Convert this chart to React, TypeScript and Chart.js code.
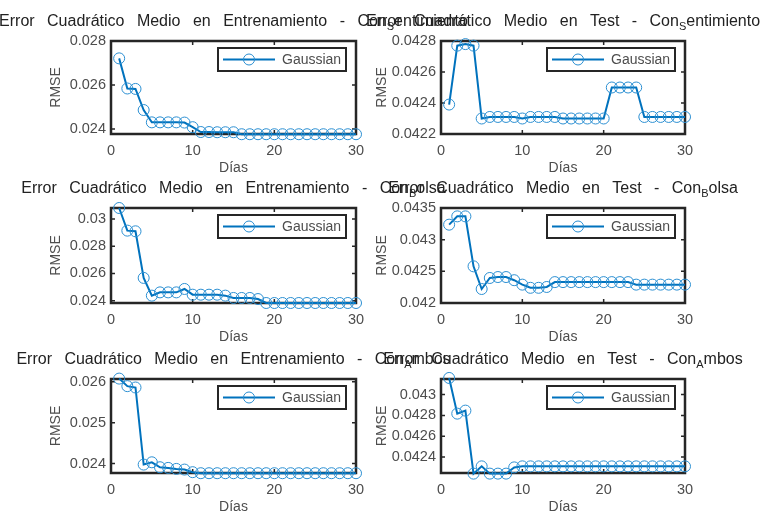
import React, { useEffect, useRef } from 'react';
import { Chart, registerables } from 'chart.js';

Chart.register(...registerables);

// ---------- data ----------
const days = [1, 2, 3, 4, 5, 6, 7, 8, 9, 10, 11, 12, 13, 14, 15, 16, 17, 18, 19, 20, 21, 22, 23, 24, 25, 26, 27, 28, 29, 30];
const xTicks = [0, 10, 20, 30];
const seriesName = 'Gaussian';

const trainSentimiento = [0.02721, 0.02584, 0.02582, 0.02486, 0.0243, 0.0243, 0.0243, 0.0243, 0.02429, 0.02408, 0.02386, 0.02386, 0.02385, 0.02385, 0.02385, 0.02376, 0.02376, 0.02376, 0.02376, 0.02376, 0.02376, 0.02376, 0.02376, 0.02376, 0.02376, 0.02376, 0.02376, 0.02376, 0.02376, 0.02376];
const testSentimiento = [0.04239, 0.04277, 0.04278, 0.04277, 0.0423, 0.04231, 0.04231, 0.04231, 0.04231, 0.0423, 0.04231, 0.04231, 0.04231, 0.04231, 0.0423, 0.0423, 0.0423, 0.0423, 0.0423, 0.0423, 0.0425, 0.0425, 0.0425, 0.0425, 0.04231, 0.04231, 0.04231, 0.04231, 0.04231, 0.04231];
const trainBolsa = [0.0308, 0.02914, 0.02909, 0.02567, 0.02437, 0.02461, 0.02461, 0.02461, 0.02486, 0.02444, 0.02444, 0.02444, 0.02444, 0.02437, 0.0242, 0.0242, 0.0242, 0.02412, 0.02383, 0.02383, 0.02383, 0.02383, 0.02383, 0.02383, 0.02383, 0.02383, 0.02383, 0.02383, 0.02383, 0.02383];
const testBolsa = [0.043237, 0.043368, 0.043368, 0.042579, 0.042221, 0.042395, 0.04241, 0.04241, 0.04236, 0.04229, 0.04224, 0.04224, 0.042253, 0.04233, 0.04233, 0.04233, 0.04233, 0.04233, 0.04233, 0.04233, 0.04233, 0.04233, 0.04233, 0.04229, 0.04229, 0.04229, 0.04229, 0.04229, 0.04229, 0.04229];
const trainAmbos = [0.02608, 0.025895, 0.025862, 0.023976, 0.024032, 0.023911, 0.023895, 0.02387, 0.023854, 0.02379, 0.023765, 0.023765, 0.023765, 0.023765, 0.023765, 0.023765, 0.023765, 0.023765, 0.023765, 0.023765, 0.023765, 0.023765, 0.023765, 0.023765, 0.023765, 0.023765, 0.023765, 0.023765, 0.023765, 0.023765];
const testAmbos = [0.04316, 0.042817, 0.042846, 0.04224, 0.04231, 0.04224, 0.04224, 0.04224, 0.0423, 0.04231, 0.04231, 0.04231, 0.04231, 0.04231, 0.04231, 0.04231, 0.04231, 0.04231, 0.04231, 0.04231, 0.04231, 0.04231, 0.04231, 0.04231, 0.04231, 0.04231, 0.04231, 0.04231, 0.04231, 0.04231];

const yTicksTrainSentimiento = [0.024, 0.026, 0.028];
const yTicksTestSentimiento = [0.0422, 0.0424, 0.0426, 0.0428];
const yTicksTrainBolsa = [0.024, 0.026, 0.028, 0.03];
const yTicksTestBolsa = [0.042, 0.0425, 0.043, 0.0435];
const yTicksTrainAmbos = [0.024, 0.025, 0.026];
const yTicksTestAmbos = [0.0424, 0.0426, 0.0428, 0.043];

const titleTrain = 'Error Cuadrático Medio en Entrenamiento - Con';
const titleTest = 'Error Cuadrático Medio en Test - Con';
const variants = [
  { sub: 'S', rest: 'entimiento' },
  { sub: 'B', rest: 'olsa' },
  { sub: 'A', rest: 'mbos' },
];

// ---------- layout / style ----------
const W = 763;
const H = 516;
const COLS = [
  { left: 111, right: 356, axisW: 63.4 },
  { left: 441, right: 685, axisW: 67.4 },
];
const ROWS = [
  { top: 41, bottom: 134 },
  { top: 208, bottom: 303 },
  { top: 379, bottom: 473 },
];
const X_AXIS_H = 42.4;
const FONT = '"Liberation Sans", Arial, Helvetica, sans-serif';
const BLUE = '#0072BD';
const MARKER = '#2b8fd2';
const AXIS = '#262626';
const LABEL = '#4d4d4d';

type Panel = {
  row: number;
  col: number;
  main: string;
  sub: string;
  rest: string;
  values: number[];
  yTicks: number[];
  yMin: number;
  yMax: number;
};

const panels: Panel[] = [
  { row: 0, col: 0, main: titleTrain, ...variants[0], values: trainSentimiento, yTicks: yTicksTrainSentimiento, yMin: 0.02377, yMax: 0.028 },
  { row: 0, col: 1, main: titleTest, ...variants[0], values: testSentimiento, yTicks: yTicksTestSentimiento, yMin: 0.0422, yMax: 0.0428 },
  { row: 1, col: 0, main: titleTrain, ...variants[1], values: trainBolsa, yTicks: yTicksTrainBolsa, yMin: 0.02383, yMax: 0.0308 },
  { row: 1, col: 1, main: titleTest, ...variants[1], values: testBolsa, yTicks: yTicksTestBolsa, yMin: 0.042, yMax: 0.0435 },
  { row: 2, col: 0, main: titleTrain, ...variants[2], values: trainAmbos, yTicks: yTicksTrainAmbos, yMin: 0.02377, yMax: 0.02607 },
  { row: 2, col: 1, main: titleTest, ...variants[2], values: testAmbos, yTicks: yTicksTestAmbos, yMin: 0.042246, yMax: 0.04315 },
];

function makePlugin(p: Panel) {
  return {
    id: 'matlabLook',
    beforeDatasetsDraw(chart: any) {
      const { ctx, chartArea: a, scales } = chart;
      ctx.save();
      ctx.strokeStyle = AXIS;
      ctx.lineWidth = 1.5;
      scales.x.ticks.forEach((t: any) => {
        const px = scales.x.getPixelForValue(t.value);
        ctx.beginPath();
        ctx.moveTo(px, a.top);
        ctx.lineTo(px, a.top + 4);
        ctx.moveTo(px, a.bottom);
        ctx.lineTo(px, a.bottom - 4);
        ctx.stroke();
      });
      scales.y.ticks.forEach((t: any) => {
        const py = scales.y.getPixelForValue(t.value);
        ctx.beginPath();
        ctx.moveTo(a.left, py);
        ctx.lineTo(a.left + 4, py);
        ctx.moveTo(a.right, py);
        ctx.lineTo(a.right - 4, py);
        ctx.stroke();
      });
      ctx.lineWidth = 2.5;
      ctx.strokeRect(a.left, a.top, a.right - a.left, a.bottom - a.top);
      ctx.restore();
    },
    afterDraw(chart: any) {
      const { ctx, chartArea: a } = chart;
      ctx.save();
      // legend
      const lw = 128;
      const lh = 23;
      const lx = a.right - 10 - lw;
      const ly = a.top + 7;
      ctx.fillStyle = '#ffffff';
      ctx.fillRect(lx, ly, lw, lh);
      ctx.strokeStyle = AXIS;
      ctx.lineWidth = 2;
      ctx.strokeRect(lx, ly, lw, lh);
      ctx.strokeStyle = BLUE;
      ctx.lineWidth = 2;
      ctx.beginPath();
      ctx.moveTo(lx + 5, ly + lh / 2);
      ctx.lineTo(lx + 57, ly + lh / 2);
      ctx.stroke();
      ctx.strokeStyle = MARKER;
      ctx.lineWidth = 1;
      ctx.beginPath();
      ctx.arc(lx + 31, ly + lh / 2, 5.5, 0, Math.PI * 2);
      ctx.stroke();
      ctx.fillStyle = LABEL;
      ctx.font = `14px ${FONT}`;
      ctx.textBaseline = 'middle';
      ctx.textAlign = 'left';
      ctx.fillText(seriesName, lx + 64, ly + lh / 2 + 0.5);

      // title with TeX-like subscript
      const c: any = ctx;
      c.letterSpacing = '0px';
      c.wordSpacing = '8px';
      const mainFont = `16px ${FONT}`;
      const subFont = `11px ${FONT}`;
      ctx.font = mainFont;
      const w1 = ctx.measureText(p.main).width;
      const w3 = ctx.measureText(p.rest).width;
      ctx.font = subFont;
      const w2 = ctx.measureText(p.sub).width;
      const total = w1 + w2 + w3;
      const cx = (a.left + a.right) / 2;
      const ty = a.top - 19;
      let x = cx - total / 2;
      ctx.fillStyle = '#222222';
      ctx.font = mainFont;
      ctx.fillText(p.main, x, ty);
      x += w1;
      ctx.font = subFont;
      ctx.fillText(p.sub, x, ty + 5);
      x += w2;
      ctx.font = mainFont;
      ctx.fillText(p.rest, x, ty);
      ctx.restore();
    },
  };
}

function PanelChart({ p }: { p: Panel }) {
  const ref = useRef<HTMLCanvasElement>(null);
  useEffect(() => {
    if (!ref.current) return;
    const col = COLS[p.col];
    const row = ROWS[p.row];
    const tickFont = { family: FONT, size: 14.5 };
    const labelFont = { family: FONT, size: 14 };
    const chart = new Chart(ref.current, {
      type: 'line',
      data: {
        datasets: [
          {
            label: seriesName,
            data: days.map((d, i) => ({ x: d, y: p.values[i] })),
            borderColor: BLUE,
            borderWidth: 2,
            pointStyle: 'circle',
            pointRadius: 5.5,
            pointBorderColor: MARKER,
            pointBackgroundColor: 'rgba(0,0,0,0)',
            pointBorderWidth: 1,
            tension: 0,
            fill: false,
            clip: false,
          } as any,
        ],
      },
      options: {
        responsive: false,
        animation: false,
        events: [],
        layout: {
          padding: {
            left: col.left - col.axisW,
            right: W - col.right,
            top: row.top,
            bottom: H - row.bottom - X_AXIS_H,
          },
        },
        plugins: {
          legend: { display: false },
          title: { display: false },
          tooltip: { enabled: false },
        },
        scales: {
          x: {
            type: 'linear',
            min: 0,
            max: 30,
            afterBuildTicks: (s: any) => {
              s.ticks = xTicks.map((v) => ({ value: v }));
            },
            afterFit: (s: any) => {
              s.height = X_AXIS_H;
            },
            grid: { display: false, drawTicks: false },
            border: { display: false },
            ticks: { padding: 8, color: LABEL, font: tickFont, maxRotation: 0, autoSkip: false, callback: (v: any) => String(v) },
            title: { display: true, text: 'Días', padding: 0, color: LABEL, font: labelFont },
          },
          y: {
            type: 'linear',
            min: p.yMin,
            max: p.yMax,
            afterBuildTicks: (s: any) => {
              s.ticks = p.yTicks.map((v) => ({ value: v }));
            },
            afterFit: (s: any) => {
              s.width = col.axisW;
            },
            grid: { display: false, drawTicks: false },
            border: { display: false },
            ticks: { padding: 5, color: LABEL, font: tickFont, autoSkip: false, callback: (v: any) => String(v) },
            title: { display: true, text: 'RMSE', padding: 0, color: LABEL, font: labelFont },
          },
        },
      } as any,
      plugins: [makePlugin(p)],
    });
    return () => chart.destroy();
  }, [p]);
  return (
    <canvas
      ref={ref}
      width={W}
      height={H}
      style={{ position: 'absolute', left: 0, top: 0, width: W, height: H }}
    />
  );
}

export default function App() {
  return (
    <div
      style={{
        position: 'absolute',
        left: 0,
        top: 0,
        width: W,
        height: H,
        background: '#ffffff',
        overflow: 'hidden',
      }}
    >
      {panels.map((p, i) => (
        <PanelChart key={i} p={p} />
      ))}
    </div>
  );
}
